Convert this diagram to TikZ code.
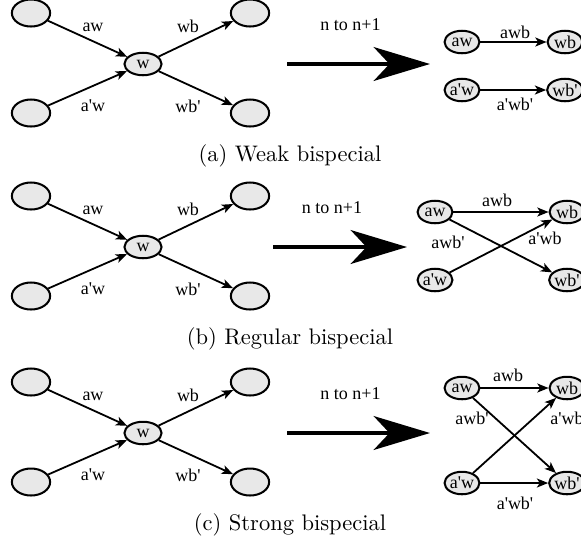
\documentclass[tikz,border=0pt]{standalone}
\usepackage{fontspec}
\usepackage{tikz}
\usetikzlibrary{arrows.meta,shapes.geometric}
\newfontfamily\tms{Liberation Serif}[Ligatures=TeXOff]

\tikzset{
  big/.style={ellipse,draw,line width=0.9pt,fill=gray!18,minimum width=17pt,minimum height=12pt,inner sep=0pt},
  st/.style={ellipse,draw,line width=0.9pt,fill=gray!18,minimum width=15.5pt,minimum height=10pt,inner sep=0pt,font=\tms\fontsize{8}{9}\selectfont},
  lbl/.style={inner sep=0pt,font=\tms\fontsize{8}{9}\selectfont},
  edge/.style={line width=0.8pt,-{Stealth[length=5pt,width=4pt,inset=1.3pt]}},
  fat/.style={line width=2pt,-{Stealth[length=25pt,width=15pt,inset=7pt]}}
}

\begin{document}
\begin{tikzpicture}[x=0.4444pt,y=-0.4444pt]
\useasboundingbox (0,0) rectangle (581,550);

% left graph, big arrow and caption of each panel
\foreach \w/\s/\e/\cap [count=\i] in {64/287/430/{(a) Weak bispecial},
                                      247/273/407/{(b) Regular bispecial},
                                      433/287/430/{(c) Strong bispecial}}{
  \node[big] (tl\i) at (31,\w-51) {};
  \node[big] (bl\i) at (31,\w+49) {};
  \node[big] (tr\i) at (250,\w-51) {};
  \node[big] (br\i) at (250,\w+49) {};
  \node[st,minimum width=16.5pt] (w\i) at (143,\w) {w};
  \draw[edge] (tl\i) -- (w\i);
  \draw[edge] (bl\i) -- (w\i);
  \draw[edge] (w\i) -- (tr\i);
  \draw[edge] (w\i) -- (br\i);
  \node[lbl] (law\i) at (93,\w-37) {aw};
  \node[lbl] (lwb\i) at (188,\w-38) {wb};
  \node[lbl] (laaw\i) at (93,\w+42) {a'w};
  \node[lbl] (lwbb\i) at (188,\w+42) {wb'};
  \coordinate (from\i) at (\s,\w);
  \coordinate (to\i) at (\e,\w);
  \draw[fat] (from\i) -- (to\i);
  \node[lbl] (step\i) at ({(\s+\e)/2-8},\w-39) {n to n+1};
  \node[font=\normalsize] (cap\i) at (290,\w+92) {\cap};
}

% (a) weak
\node[st] (aw1) at (462,42) {aw};
\node[st] (wb1) at (565,42) {wb};
\node[st] (aaw1) at (462,90) {a'w};
\node[st] (wbb1) at (565,90) {wb'};
\draw[edge] (aw1) -- (wb1);
\draw[edge] (aaw1) -- (wbb1);
\node[lbl] at (515,32) {awb};
\node[lbl] at (515,104) {a'wb'};

% (b) regular
\node[st] (aw2) at (435,212) {aw};
\node[st] (wb2) at (567,212) {wb};
\node[st] (aaw2) at (435,280) {a'w};
\node[st] (wbb2) at (567,280) {wb'};
\draw[edge] (aw2) -- (wb2);
\draw[edge] (aw2) -- (wbb2);
\draw[edge] (aaw2) -- (wb2);
\node[lbl] at (497,200) {awb};
\node[lbl] at (448,242) {awb'};
\node[lbl] at (545,238) {a'wb};

% (c) strong
\node[st] (aw3) at (462,388) {aw};
\node[st] (wb3) at (567,388) {wb};
\node[st] (aaw3) at (462,483) {a'w};
\node[st] (wbb3) at (567,483) {wb'};
\draw[edge] (aw3) -- (wb3);
\draw[edge] (aw3) -- (wbb3);
\draw[edge] (aaw3) -- (wb3);
\draw[edge] (aaw3) -- (wbb3);
\node[lbl] at (508,375) {awb};
\node[lbl] at (472,418) {awb'};
\node[lbl] at (567,418) {a'wb};
\node[lbl] at (515,503) {a'wb'};
\end{tikzpicture}
\end{document}
